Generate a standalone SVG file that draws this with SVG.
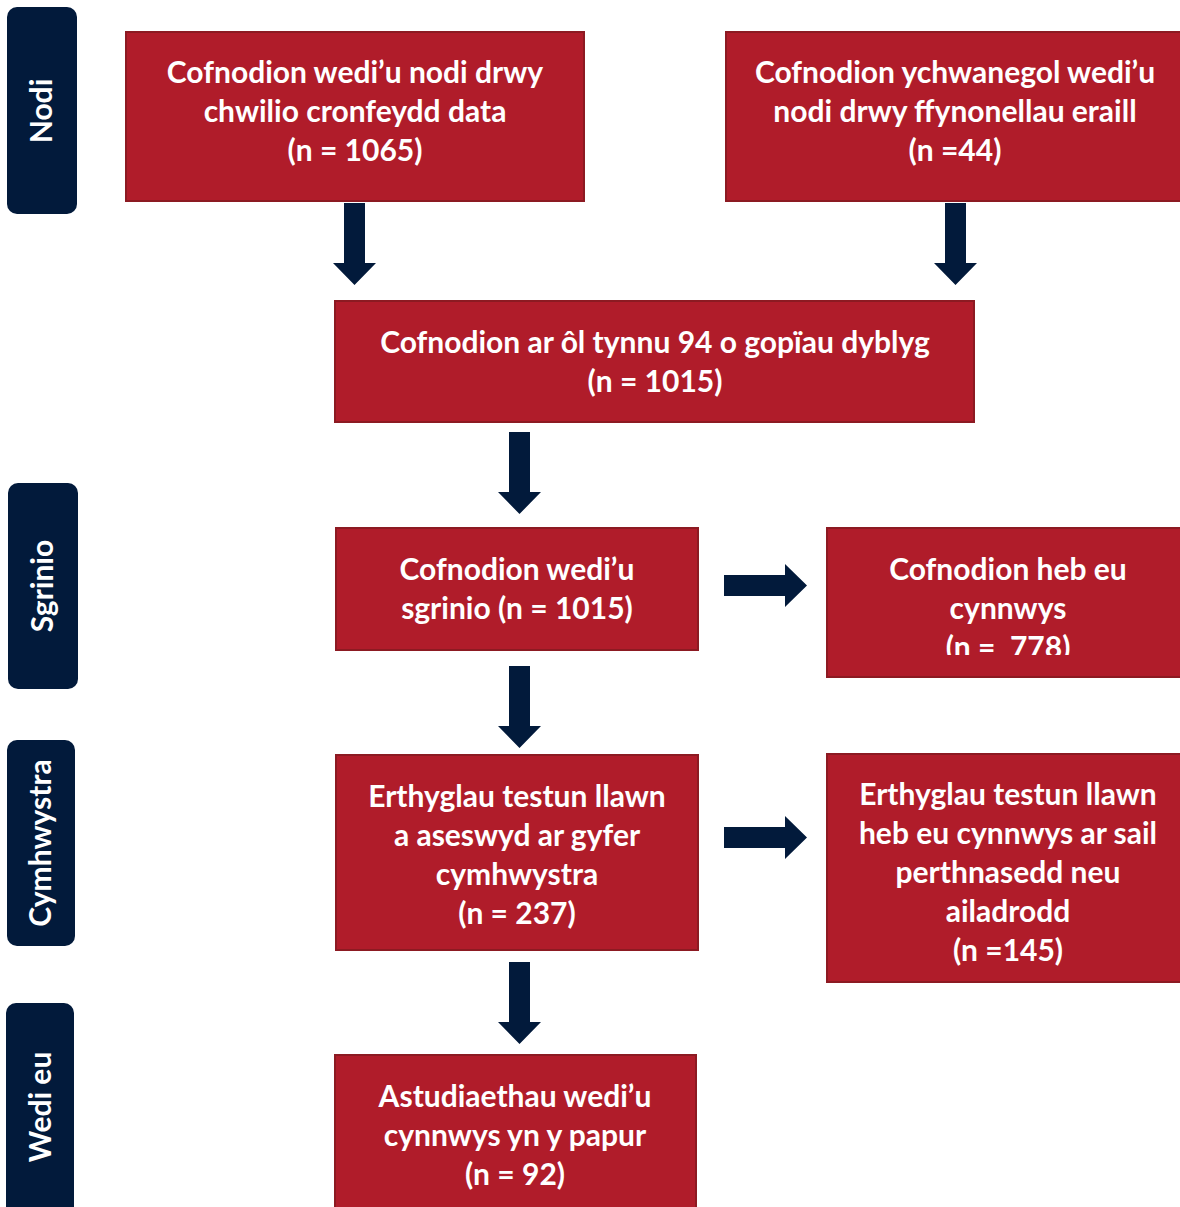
<svg xmlns="http://www.w3.org/2000/svg" width="1180" height="1207" viewBox="0 0 1180 1207">
<style>
.box{fill:#B01C2A;stroke:#8C1A22;stroke-width:2}
.side{fill:#021A3B}
.t{font-family:Lato,"Liberation Sans",sans-serif;font-weight:700;font-size:30px;fill:#fff;text-anchor:middle}
.s{font-family:Lato,"Liberation Sans",sans-serif;font-weight:700;font-size:30px;fill:#fff;text-anchor:middle}
.arr{fill:#021A3B}
</style>
<defs>
<clipPath id="c5"><rect x="827" y="528" width="353" height="127"/></clipPath>
</defs>
<rect width="1180" height="1207" fill="#fff"/>
<g id="side-nodi"><rect class="side" x="7" y="7" width="70" height="207" rx="10"/><text class="s" transform="translate(52,111) rotate(-90)">Nodi</text></g>
<g id="side-sgrinio"><rect class="side" x="8" y="483" width="70" height="206" rx="10"/><text class="s" transform="translate(53,586) rotate(-90)">Sgrinio</text></g>
<g id="side-cymhwystra"><rect class="side" x="7" y="740" width="68" height="206" rx="10"/><text class="s" transform="translate(51,843) rotate(-90)">Cymhwystra</text></g>
<g id="side-wedi"><rect class="side" x="6" y="1003" width="68" height="214" rx="10"/><text class="s" transform="translate(51,1107) rotate(-90)">Wedi eu</text></g>

<g id="n1"><rect class="box" x="126" y="32" width="458" height="169"/>
<text class="t" x="355" y="83">Cofnodion wedi’u nodi drwy</text>
<text class="t" x="355" y="122">chwilio cronfeydd data</text>
<text class="t" x="355" y="161">(n = 1065)</text></g>
<g id="n2"><rect class="box" x="726" y="32" width="460" height="169"/>
<text class="t" x="955" y="83">Cofnodion ychwanegol wedi’u</text>
<text class="t" x="955" y="122">nodi drwy ffynonellau eraill</text>
<text class="t" x="955" y="161">(n =44)</text></g>
<g id="n3"><rect class="box" x="335" y="301" width="639" height="121"/>
<text class="t" x="655" y="353">Cofnodion ar ôl tynnu 94 o gopïau dyblyg</text>
<text class="t" x="655" y="392">(n = 1015)</text></g>
<g id="n4"><rect class="box" x="336" y="528" width="362" height="122"/>
<text class="t" x="517" y="580">Cofnodion wedi’u</text>
<text class="t" x="517" y="619">sgrinio (n = 1015)</text></g>
<g id="n5"><rect class="box" x="827" y="528" width="359" height="149"/>
<g clip-path="url(#c5)">
<text class="t" x="1008" y="580">Cofnodion heb eu</text>
<text class="t" x="1008" y="619">cynnwys</text>
<text class="t" x="1008" y="658" xml:space="preserve">(n =  778)</text></g></g>
<g id="n6"><rect class="box" x="336" y="755" width="362" height="195"/>
<text class="t" x="517" y="807">Erthyglau testun llawn</text>
<text class="t" x="517" y="846">a aseswyd ar gyfer</text>
<text class="t" x="517" y="885">cymhwystra</text>
<text class="t" x="517" y="924">(n = 237)</text></g>
<g id="n7"><rect class="box" x="827" y="754" width="359" height="228"/>
<text class="t" x="1008" y="805">Erthyglau testun llawn</text>
<text class="t" x="1008" y="844">heb eu cynnwys ar sail</text>
<text class="t" x="1008" y="883">perthnasedd neu</text>
<text class="t" x="1008" y="922">ailadrodd</text>
<text class="t" x="1008" y="961">(n =145)</text></g>
<g id="n8"><rect class="box" x="335" y="1055" width="361" height="162"/>
<text class="t" x="515" y="1107">Astudiaethau wedi’u</text>
<text class="t" x="515" y="1146">cynnwys yn y papur</text>
<text class="t" x="515" y="1185">(n = 92)</text></g>

<g id="connectors">
<polygon class="arr" points="344,203 365,203 365,263 376,263 354.5,285 333,263 344,263"/>
<polygon class="arr" points="945,203 966,203 966,263 977,263 955.5,285 934,263 945,263"/>
<polygon class="arr" points="509,432 530,432 530,492 541,492 519.5,514 498,492 509,492"/>
<polygon class="arr" points="509,666 530,666 530,726 541,726 519.5,748 498,726 509,726"/>
<polygon class="arr" points="509,962 530,962 530,1022 541,1022 519.5,1044 498,1022 509,1022"/>
<polygon class="arr" points="724,575 785,575 785,564 807,585.5 785,607 785,596 724,596"/>
<polygon class="arr" points="724,827 785,827 785,816 807,837.5 785,859 785,848 724,848"/>
</g>
</svg>
